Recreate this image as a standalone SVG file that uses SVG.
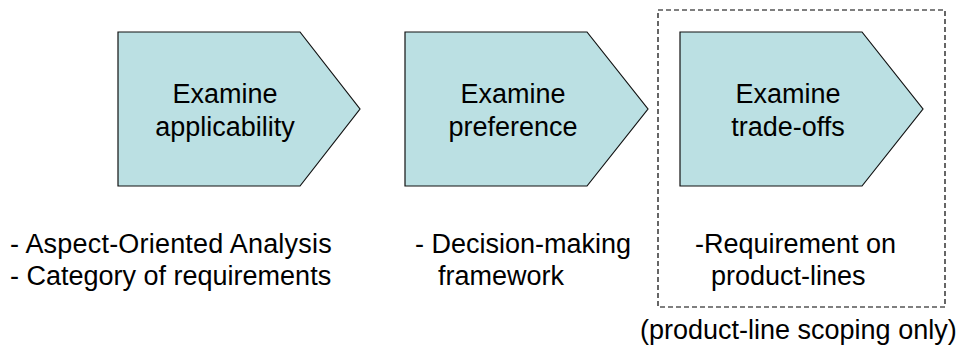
<svg xmlns="http://www.w3.org/2000/svg" width="960" height="352" viewBox="0 0 960 352">
<style>
.s{fill:#bbe0e3;stroke:#111;stroke-width:1.2}
text{font-family:"Liberation Sans",Arial,sans-serif;font-size:27px;fill:#000}
.c{text-anchor:middle}
.w{letter-spacing:.2px}
</style>
<rect width="960" height="352" fill="#fff"/>
<g id="node-applicability"><polygon class="s" points="118,32 300,32 360,109 300,186 118,186"/><text class="c" x="225" y="103">Examine</text><text class="c" x="225" y="136">applicability</text></g>
<g id="node-preference"><polygon class="s" points="405,32 587,32 648,109 587,186 405,186"/><text class="c" x="513" y="103">Examine</text><text class="c" x="513" y="136">preference</text></g>
<g id="node-tradeoffs"><polygon class="s" points="680,32 862,32 923,109 862,186 680,186"/><text class="c" x="788" y="103">Examine</text><text class="c" x="788" y="136">trade-offs</text></g>
<g id="scope"><rect x="658" y="10" width="287" height="297" fill="none" stroke="#000" stroke-width="1.2" stroke-dasharray="5 3"/></g>
<g id="notes">
<text class="w" x="10" y="253">- Aspect-Oriented Analysis</text>
<text x="10" y="285">- Category of requirements</text>
<text x="415" y="253">- Decision-making</text>
<text x="438" y="285">framework</text>
<text x="695" y="253">-Requirement on</text>
<text x="711" y="285">product-lines</text>
<text x="640" y="339">(product-line scoping only)</text>
</g>
<g id="connectors"/>
</svg>
